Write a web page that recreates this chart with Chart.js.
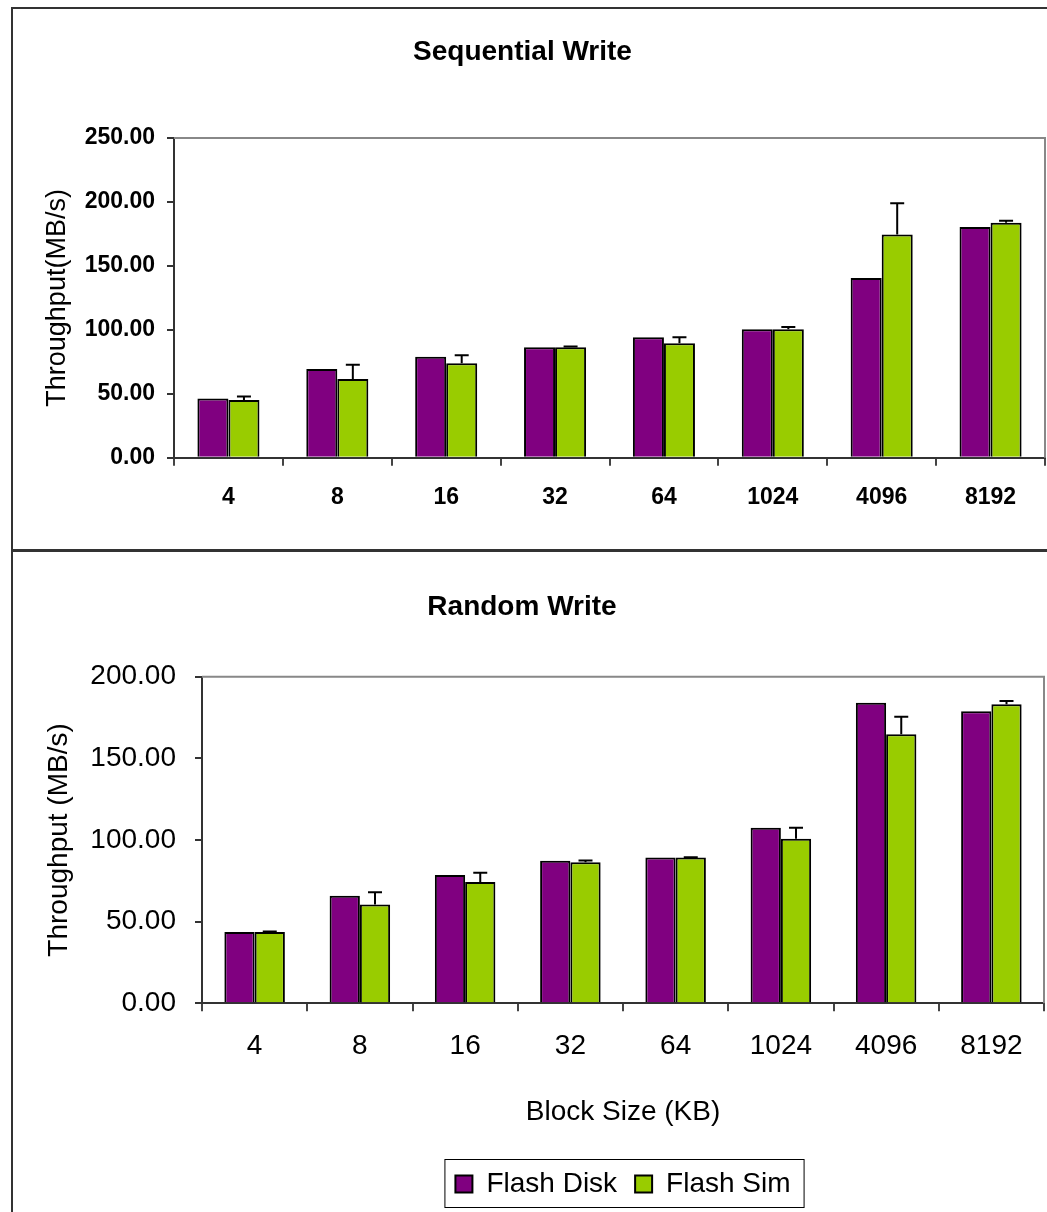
<!DOCTYPE html>
<html>
<head>
<meta charset="utf-8">
<script src="https://cdn.jsdelivr.net/npm/chart.js@4.4.1/dist/chart.umd.min.js"></script>
<style>
    html, body { margin: 0; padding: 0; background: #fff; overflow: hidden; }
    body { width: 1047px; height: 1212px; position: relative; }
    .frame { position: absolute; left: 11px; width: 1100px; border: 2px solid #333; box-sizing: border-box; }
    canvas { position: absolute; left: 0; }
</style>
</head>
<body>
<div class="frame" style="top:7px; height:545px;"></div>
<div class="frame" style="top:549px; height:700px;"></div>
<canvas id="chart-seq" width="1047" height="550" style="top:0px"></canvas>
<canvas id="chart-rand" width="1047" height="662" style="top:550px"></canvas>
<script>
const blockSizes = ["4", "8", "16", "32", "64", "1024", "4096", "8192"];

// Sequential Write
const seqDisk = [46.4, 69.5, 78.9, 86.5, 94.2, 100.4, 140.5, 180.5];
const seqSim = [45.1, 61.6, 74.0, 86.5, 89.5, 100.4, 174.6, 183.7];
const seqSimErr = [2.9, 11.1, 6.1, 0.5, 4.7, 1.9, 24.4, 1.7];

// Random Write
const randDisk = [43.6, 65.8, 78.6, 87.3, 89.2, 107.5, 184.1, 178.9];
const randSim = [43.6, 60.4, 74.3, 86.3, 89.2, 100.8, 164.8, 183.2];
const randSimErr = [0.3, 7.5, 5.6, 1.1, 0.2, 6.7, 10.6, 1.9];

const purple = "#800080";
const green = "#99CC00";
const fontFamily = "'Liberation Sans', Arial, sans-serif";

Chart.defaults.font.family = fontFamily;
Chart.defaults.color = "#000";

// upper error bars, drawn from the bar top through the y scale
const errorBars = {
    id: "errorBars",
    afterDatasetsDraw(chart) {
        const ctx = chart.ctx;
        const yScale = chart.scales.y;
        chart.data.datasets.forEach((ds, i) => {
            if (!ds.errors) return;
            chart.getDatasetMeta(i).data.forEach((bar, j) => {
                const top = yScale.getPixelForValue(ds.data[j] + ds.errors[j]);
                ctx.save();
                ctx.strokeStyle = "#000";
                ctx.lineWidth = 2;
                ctx.beginPath();
                ctx.moveTo(bar.x, bar.y);
                ctx.lineTo(bar.x, top);
                ctx.moveTo(bar.x - 7, top);
                ctx.lineTo(bar.x + 7, top);
                ctx.stroke();
                ctx.restore();
            });
        });
    }
};

// gray top / right edge of the plot area
const plotBorder = {
    id: "plotBorder",
    beforeDatasetsDraw(chart) {
        const {ctx, chartArea} = chart;
        ctx.save();
        ctx.strokeStyle = "#888";
        ctx.lineWidth = 2;
        ctx.beginPath();
        ctx.moveTo(chartArea.left, chartArea.top);
        ctx.lineTo(chartArea.right, chartArea.top);
        ctx.lineTo(chartArea.right, chartArea.bottom);
        ctx.stroke();
        ctx.restore();
    }
};

// center legend under the plot area and draw a box around it
const legendBox = {
    id: "legendBox",
    afterLayout(chart) {
        const lg = chart.legend;
        if (!lg || !lg.options.display) return;
        lg.left = chart.chartArea.left;
        lg.right = chart.chartArea.right;
        lg.width = lg.right - lg.left;
    },
    afterDraw(chart) {
        const lg = chart.legend;
        if (!lg || !lg.legendHitBoxes.length) return;
        const boxes = lg.legendHitBoxes;
        const first = boxes[0];
        const last = boxes[boxes.length - 1];
        const cy = first.top + first.height / 2;
        const ctx = chart.ctx;
        ctx.save();
        ctx.strokeStyle = "#000";
        ctx.lineWidth = 1;
        ctx.strokeRect(first.left - 10.5, cy - 24.5, last.left + last.width - first.left + 24, 48);
        ctx.restore();
    }
};

function makeChart(id, title, disk, sim, simErr, opts) {
    const canvas = document.getElementById(id);
    const ctx = canvas.getContext("2d");
    return new Chart(ctx, {
        type: "bar",
        data: {
            labels: blockSizes,
            datasets: [{
                label: "Flash Disk",
                data: disk,
                backgroundColor: purple,
                borderColor: "#000",
                borderWidth: 2,
                categoryPercentage: opts.catPct,
                barPercentage: 1.0
            }, {
                label: "Flash Sim",
                data: sim,
                errors: simErr,
                backgroundColor: green,
                borderColor: "#000",
                borderWidth: 2,
                categoryPercentage: opts.catPct,
                barPercentage: 1.0
            }]
        },
        options: {
            responsive: false,
            animation: false,
            layout: { padding: opts.layoutPad },
            plugins: {
                title: {
                    display: true,
                    text: title,
                    color: "#000",
                    font: { size: 28, weight: "bold" },
                    padding: opts.titlePad
                },
                legend: opts.legend,
                tooltip: { enabled: false }
            },
            scales: {
                x: {
                    grid: { drawOnChartArea: false, tickLength: 8, color: "#444", lineWidth: 2 },
                    border: { color: "#333", width: 2 },
                    ticks: { font: opts.xFont, padding: opts.xPad, color: "#000" },
                    title: opts.xTitle
                },
                y: {
                    min: 0,
                    max: opts.yMax,
                    afterFit: (scale) => { scale.width = opts.yWidth; },
                    grid: { drawOnChartArea: false, tickLength: 7, color: "#333", lineWidth: 2 },
                    border: { color: "#333", width: 2 },
                    ticks: {
                        stepSize: 50,
                        font: opts.yFont,
                        padding: opts.yPad,
                        color: "#000",
                        callback: (v) => Number(v).toFixed(2)
                    },
                    title: opts.yTitle
                }
            }
        },
        plugins: [plotBorder, errorBars, legendBox]
    });
}

makeChart("chart-seq", "Sequential Write", seqDisk, seqSim, seqSimErr, {
    catPct: 0.57,
    layoutPad: { left: 0, right: 2, top: 0, bottom: 20.2 },
    titlePad: { top: 35.2, bottom: 69.2 },
    legend: { display: false },
    xFont: { size: 23, weight: "bold" },
    xPad: 18.2,
    xTitle: { display: false },
    yMax: 250,
    yWidth: 174,
    yFont: { size: 23, weight: "bold" },
    yPad: 12,
    yTitle: { display: true, text: "Throughput(MB/s)", color: "#000", font: { size: 27 }, padding: { top: 41.3, bottom: 0 } }
});

makeChart("chart-rand", "Random Write", randDisk, randSim, randSimErr, {
    catPct: 0.575,
    layoutPad: { left: 0, right: 3, top: 0, bottom: 4 },
    titlePad: { top: 40.2, bottom: 52.9 },
    legend: {
        display: true,
        position: "bottom",
        labels: { color: "#000", font: { size: 28 }, boxWidth: 17, boxHeight: 17, padding: 18 }
    },
    xFont: { size: 28 },
    xPad: 18.5,
    xTitle: { display: true, text: "Block Size (KB)", color: "#000", font: { size: 28 }, padding: { top: 13.4, bottom: 23.2 } },
    yMax: 200,
    yWidth: 202,
    yFont: { size: 28 },
    yPad: 19,
    yTitle: { display: true, text: "Throughput (MB/s)", color: "#000", font: { size: 28 }, padding: { top: 42.2, bottom: 0 } }
});
</script>
</body>
</html>
